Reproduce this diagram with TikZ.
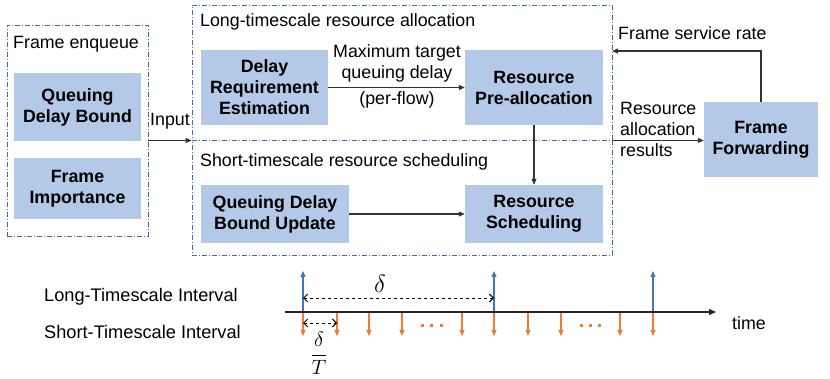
\documentclass[tikz,border=0pt]{standalone}
\usepackage{fontspec}
\setmainfont{Liberation Sans}
\usepackage{amsmath}
\usetikzlibrary{arrows.meta,calc}
\definecolor{boxfill}{RGB}{180,200,231}
\definecolor{grpline}{RGB}{68,105,180}
\definecolor{upblue}{RGB}{68,114,196}
\definecolor{downor}{RGB}{237,125,49}
\begin{document}
\begin{tikzpicture}[x=1pt,y=-1pt,
  every node/.style={font=\fontsize{17.8}{21}\selectfont, inner sep=0pt},
  blk/.style={fill=boxfill, draw=none, align=center, font=\fontsize{17.8}{21}\selectfont\bfseries},
  grp/.style={draw=grpline, line width=0.9pt, dash pattern=on 5pt off 2pt on 1pt off 2pt, fill=none},
  arr/.style={line width=1.1pt, draw=black!80, -{Triangle[length=6pt,width=5pt]}},
  uparr/.style={line width=1.2pt, draw=upblue, -{Triangle[length=6pt,width=5pt]}},
  dnarr/.style={line width=1.2pt, draw=downor, -{Triangle[length=6pt,width=5pt]}},
  dimarr/.style={line width=0.9pt, dashed, {Straight Barb[length=4pt,width=8pt]}-{Straight Barb[length=4pt,width=8pt]}},
  tllbl/.style={anchor=west, font=\fontsize{18.2}{21}\selectfont},
  lbl/.style={align=left}
]
\useasboundingbox (0,0) rectangle (830,379);

% group boxes
\node[grp, minimum width=141pt, minimum height=211pt] (enq) at (77.5,130.5) {};
\node[grp, minimum width=420pt, minimum height=135pt] (top) at (402,72.5) {};
\node[grp, minimum width=420pt, minimum height=115pt] (bot) at (402,197.5) {};

% group titles
\node[anchor=west] (tenq) at (13,44) {Frame enqueue};
\node[anchor=west] (ttop) at (200,22) {Long-timescale resource allocation};
\node[anchor=west] (tbot) at (200,162) {Short-timescale resource scheduling};

% blocks
\node[blk, minimum width=127pt, minimum height=68pt] (qdb) at (77.5,107) {Queuing\\Delay Bound};
\node[blk, minimum width=127pt, minimum height=61pt] (fi) at (77.5,188.5) {Frame\\Importance};
\node[blk, minimum width=127pt, minimum height=75pt] (dre) at (264.5,87.5) {Delay\\Requirement\\Estimation};
\node[blk, minimum width=138pt, minimum height=75pt] (rp) at (534,87.5) {Resource\\Pre-allocation};
\node[blk, minimum width=148pt, minimum height=58pt] (qdbu) at (275,214) {Queuing Delay\\Bound Update};
\node[blk, minimum width=138pt, minimum height=58pt] (rs) at (534,214) {Resource\\Scheduling};
\node[blk, minimum width=114pt, minimum height=75pt] (ff) at (761,139.5) {Frame\\Forwarding};

% connectors
\draw[arr] (enq.east |- top.south west) -- (top.south west);
\node (input) at (170,121) {Input};
\draw[arr] (dre.east) -- (rp.west);
\node[align=center] (mtq) at (397,63) {Maximum target\\queuing delay};
\node (pf) at (397,100) {(per-flow)};
\draw[arr] (rp.south) -- (rs.north);
\draw[arr] (qdbu.east) -- (rs.west);
\draw[arr] (top.south east) -- (ff.west |- top.south east);
\node[lbl, anchor=west] (rar) at (620,129) {Resource\\allocation\\results};
\coordinate (fsr) at (612,51);
\draw[arr] (ff.north) |- (fsr);
\node[anchor=west] (tfsr) at (618,33) {Frame service rate};

% timeline
\node[tllbl] (lti) at (44,297) {Long-Timescale Interval};
\node[tllbl] (sti) at (44,332) {Short-Timescale Interval};
\coordinate (ax0) at (285,312);
\coordinate (ax1) at (716,312);
\foreach \x in {303,337,369,402,462,494,528,561,620,653}{
  \draw[dnarr] (\x,312) -- (\x,336);
}
\foreach \x in {303,494,653}{
  \draw[uparr] (\x,312) -- (\x,271);
}
\draw[line width=1.3pt, draw=black!85, -{Triangle[length=7pt,width=6pt]}] (ax0) -- (ax1);
\node[anchor=west] (time) at (732,323) {time};
\foreach \x in {422,431,441,581,590,599}{
  \fill[downor] (\x-1.5,324.5) rectangle (\x+1.5,327.5);
}
\coordinate (l0) at (303,298);
\coordinate (l1) at (494,298);
\draw[dimarr] (l0) -- (l1);
\node (delta) at (380,284) {\fontsize{23}{26}\selectfont$\delta$};
\coordinate (s0) at (303,323);
\coordinate (s1) at (337,323);
\draw[dimarr] (s0) -- (s1);
\node (dT) at (319,353) {\fontsize{22}{26}\selectfont$\dfrac{\delta}{T}$};
\end{tikzpicture}
\end{document}
